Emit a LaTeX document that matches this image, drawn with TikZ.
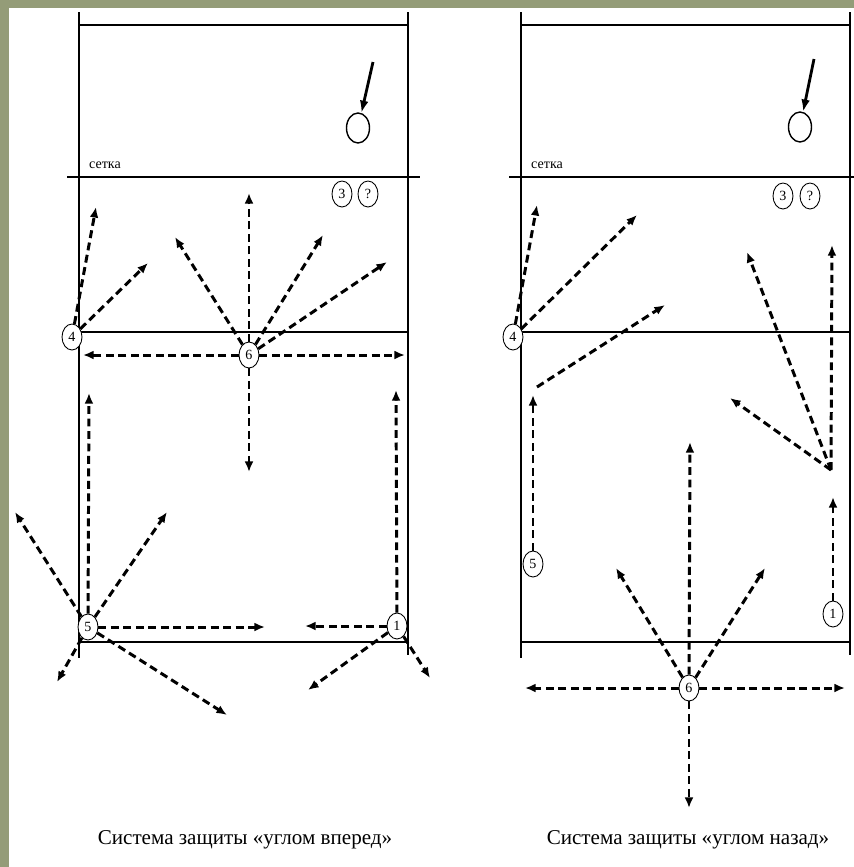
\documentclass[tikz,border=0pt]{standalone}
\usepackage{fontspec}
\setmainfont{Liberation Serif}
\usetikzlibrary{arrows.meta,shapes.geometric}
\definecolor{bggreen}{RGB}{148,156,120}

\begin{document}
\begin{tikzpicture}[x=0.02cm,y=-0.02cm,
    court/.style={line width=0.9pt},
    player/.style={ellipse, draw, fill=white, line width=0.5pt, minimum width=0.4cm,
        minimum height=0.52cm, inner sep=0pt, font=\fontsize{8}{8}\selectfont},
    ball/.style={ellipse, draw, line width=0.8pt, minimum width=0.46cm,
        minimum height=0.6cm, inner sep=0pt},
    move/.style={line width=1.7pt, dash pattern=on 4.5pt off 2.6pt,
        -{Latex[length=6pt,width=5pt]}},
    hit/.style={line width=1.6pt, -{Latex[length=7pt,width=5pt]}}]
    \useasboundingbox (0,0) rectangle (854,867);

    % Фон
    \fill[bggreen] (0,0) rectangle (854,867);
    \fill[white] (9,8) rectangle (854,867);

    % Площадки
    \foreach \dx in {0,442} {
        \draw[court] (79+\dx,12) -- (79+\dx,658);
        \draw[court] (408+\dx,12) -- (408+\dx,655);
        \draw[court] (79+\dx,25) -- (408+\dx,25);
        \draw[court] (67+\dx,177) -- (420+\dx,177);
        \draw[court] (79+\dx,332) -- (408+\dx,332);
        \draw[court] (79+\dx,642) -- (408+\dx,642);
        \node[font=\fontsize{8}{8}\selectfont, anchor=base west] (setka\dx) at (83+\dx,168) {сетка};
    }

    % Защита «углом вперед»
    \node[player] (l4) at (72,337) {4};
    \node[player] (l6) at (249,355) {6};
    \node[player] (l5) at (88,627) {5};
    \node[player] (l1) at (397,626) {1};
    \node[player] (l3) at (342,194) {3};
    \node[player] (l2) at (368,194) {?};
    \node[ball] (lball) at (358,128) {};
    \coordinate (lhit) at (373,62);
    \draw[hit] (lhit) -- (lball);

    \foreach \n/\x/\y in {4a/96/207, 4b/148/263,
        6a/83/355, 6b/405/355, 6c/249/193, 6d/175/237, 6e/323/235, 6f/387/262, 6g/249/472,
        5a/89/393, 5b/265/627, 5c/15/512, 5d/167/512, 5e/57/682, 5f/227/715,
        1a/305/626, 1b/396/390, 1c/308/690, 1d/430/678}
        \coordinate (l\n) at (\x,\y);

    \foreach \t in {a,b} \draw[move] (l4) -- (l4\t);
    \foreach \t in {a,b,c,d,e,f,g} \draw[move] (l6) -- (l6\t);
    \foreach \t in {a,b,c,d,e,f} \draw[move] (l5) -- (l5\t);
    \foreach \t in {a,b,c,d} \draw[move] (l1) -- (l1\t);

    % Защита «углом назад»
    \node[player] (r4) at (513,337) {4};
    \node[player] (r5) at (533,564) {5};
    \node[player] (r1) at (833,614) {1};
    \node[player] (r6) at (689,688) {6};
    \node[player] (r3) at (783,196) {3};
    \node[player] (r2) at (810,196) {?};
    \node[ball] (rball) at (800,127) {};
    \coordinate (rhit) at (814,59);
    \draw[hit] (rhit) -- (rball);

    \foreach \n/\x/\y in {4a/537/205, 4b/637/215,
        5a/533/395, 5b/537/387, 5c/665/305,
        1a/833/497, 1j/831/470, 1b/832/245, 1c/747/252, 1d/730/398,
        6a/525/688, 6b/845/688, 6c/690/442, 6d/616/568, 6e/765/568, 6f/689/808}
        \coordinate (r\n) at (\x,\y);

    \foreach \t in {a,b} \draw[move] (r4) -- (r4\t);
    \draw[move] (r5) -- (r5a);
    \draw[move] (r5b) -- (r5c);
    \draw[move] (r1) -- (r1a);
    \foreach \t in {b,c,d} \draw[move] (r1j) -- (r1\t);
    \foreach \t in {a,b,c,d,e,f} \draw[move] (r6) -- (r6\t);

    % Подписи
    \node[font=\fontsize{12}{14}\selectfont] (capl) at (245,840) {Система защиты «углом вперед»};
    \node[font=\fontsize{12}{14}\selectfont] (capr) at (688,840) {Система защиты «углом назад»};
\end{tikzpicture}
\end{document}
